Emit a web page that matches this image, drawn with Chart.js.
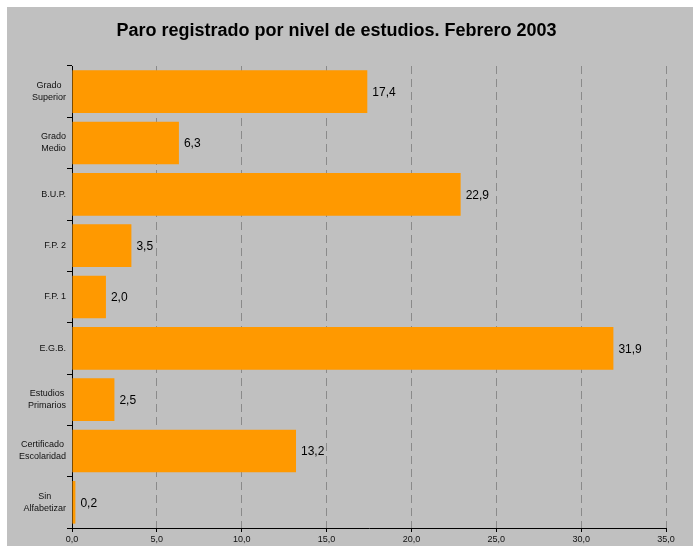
<!DOCTYPE html>
<html>
<head>
<meta charset="utf-8">
<script src="https://cdn.jsdelivr.net/npm/chart.js@4"></script>
<style>
  html, body { margin: 0; padding: 0; background: #fff; }
  #wrap { width: 693px; height: 546px; position: relative; }
</style>
</head>
<body>
<div id="wrap"><canvas id="paroChart"></canvas></div>
<script>
// Data
const categories = [
    ['Grado', 'Superior'],
    ['Grado', 'Medio'],
    ['B.U.P.'],
    ['F.P. 2'],
    ['F.P. 1'],
    ['E.G.B.'],
    ['Estudios', 'Primarios'],
    ['Certificado', 'Escolaridad'],
    ['Sin', 'Alfabetizar']
];
const paroValues = [17.4, 6.3, 22.9, 3.5, 2.0, 31.9, 2.5, 13.2, 0.2];
const xTicks = [0, 5, 10, 15, 20, 25, 30, 35];

const fontFamily = "'Liberation Sans', Arial, sans-serif";
const fmt = v => v.toFixed(1).replace('.', ',');

// gray panel with the thin white border top/left
const background = {
    id: 'background',
    beforeDraw(chart) {
        const ctx = chart.ctx;
        ctx.save();
        ctx.fillStyle = '#c0c0c0';
        ctx.fillRect(7, 7, chart.width - 7, chart.height - 7);
        ctx.restore();
    }
};

// category labels: block right-aligned to the axis, lines centred inside it
const categoryLabels = {
    id: 'categoryLabels',
    afterDraw(chart) {
        const ctx = chart.ctx;
        const yScale = chart.scales.y;
        const right = chart.chartArea.left - 6;
        ctx.save();
        ctx.font = '9px ' + fontFamily;
        ctx.fillStyle = '#111';
        ctx.textAlign = 'center';
        ctx.textBaseline = 'middle';
        categories.forEach((lines, i) => {
            const y = yScale.getPixelForValue(i);
            const w = Math.max(...lines.map(l => ctx.measureText(l).width));
            const cx = right - w / 2;
            const lh = 12;
            lines.forEach((l, j) => {
                ctx.fillText(l, cx, y + (j - (lines.length - 1) / 2) * lh);
            });
        });
        ctx.restore();
    }
};

// value labels at the end of each bar
const valueLabels = {
    id: 'valueLabels',
    afterDatasetsDraw(chart) {
        const ctx = chart.ctx;
        const meta = chart.getDatasetMeta(0);
        ctx.save();
        ctx.font = '12px ' + fontFamily;
        ctx.fillStyle = '#000';
        ctx.textAlign = 'left';
        ctx.textBaseline = 'middle';
        meta.data.forEach((bar, i) => {
            ctx.fillText(fmt(paroValues[i]), bar.x + 5, bar.y + 1);
        });
        ctx.restore();
    }
};

new Chart(document.getElementById('paroChart'), {
    type: 'bar',
    data: {
        labels: categories,
        datasets: [{
            data: paroValues,
            backgroundColor: '#ff9900',
            borderWidth: 0,
            barPercentage: 0.83,
            categoryPercentage: 1
        }]
    },
    options: {
        indexAxis: 'y',
        responsive: true,
        maintainAspectRatio: false,
        animation: false,
        layout: { padding: { top: 20, left: 7, right: 27, bottom: 0 } },
        plugins: {
            legend: { display: false },
            tooltip: { enabled: false },
            title: {
                display: true,
                text: 'Paro registrado por nivel de estudios. Febrero 2003',
                color: '#000',
                font: { family: fontFamily, size: 18, weight: 'bold' },
                padding: { top: 0, bottom: 24.4 }
            }
        },
        scales: {
            x: {
                min: 0,
                max: 35,
                afterBuildTicks: scale => { scale.ticks = xTicks.map(v => ({ value: v })); },
                afterFit: scale => { scale.height = 18; },
                ticks: {
                    callback: v => fmt(v),
                    color: '#111',
                    font: { family: fontFamily, size: 9 },
                    padding: 2,
                    maxRotation: 0
                },
                grid: {
                    color: '#8a8a8a',
                    tickColor: '#000',
                    tickLength: 4,
                    lineWidth: 1
                },
                border: { color: '#000', width: 1, dash: [8, 5] }
            },
            y: {
                afterFit: scale => { scale.width = 65; },
                ticks: { display: false },
                grid: {
                    drawOnChartArea: false,
                    tickColor: '#000',
                    tickLength: 5
                },
                border: { color: '#000', width: 1 }
            }
        }
    },
    plugins: [background, categoryLabels, valueLabels]
});
</script>
</body>
</html>
